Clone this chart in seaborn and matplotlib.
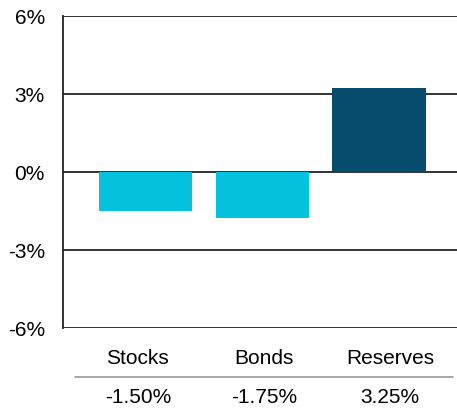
import pandas as pd
import seaborn as sns
import matplotlib.pyplot as plt
from matplotlib.lines import Line2D
from matplotlib.ticker import FuncFormatter

# Data
categories = ["Stocks", "Bonds", "Reserves"]
values = [-1.50, -1.75, 3.25]
value_labels = ["-1.50%", "-1.75%", "3.25%"]
bar_colors = ["#05C3DF", "#05C3DF", "#074B6D"]
yticks = [-6, -3, 0, 3, 6]

sns.set_theme(style="white")
plt.rcParams["font.family"] = ["Liberation Sans", "DejaVu Sans"]

df = pd.DataFrame({"category": categories, "value": values})

fig = plt.figure(figsize=(4.57, 4.12), dpi=100)
ax = fig.add_axes([63 / 457, 84 / 412, 394 / 457, 312 / 412])

sns.barplot(data=df, x="category", y="value", hue="category",
            palette=bar_colors, width=0.8, saturation=1, legend=False,
            linewidth=0, edgecolor="none", ax=ax, zorder=3)

# gridlines
for t in yticks:
    ax.axhline(t, color="#222222", lw=1.3, zorder=2)

ax.set_ylim(-6, 6)
ax.set_xlim(-0.71, 2.67)
ax.set_yticks(yticks)
ax.yaxis.set_major_formatter(FuncFormatter(lambda v, _: f"{v:.0f}%"))
ax.tick_params(axis="y", length=0, pad=13, labelsize=15, colors="black")
ax.set_xticks([])
ax.set_xlabel("")
ax.set_ylabel("")

for side in ["top", "right", "bottom"]:
    ax.spines[side].set_visible(False)
ax.spines["left"].set_color("#222222")
ax.spines["left"].set_linewidth(1.3)

# little table under the axis: equal columns across the grey rule
tbl_left, tbl_right = 0.030, 0.990
col_w = (tbl_right - tbl_left) / len(categories)
for i, (cat, lab) in enumerate(zip(categories, value_labels)):
    cx = tbl_left + col_w * (i + 0.5)
    ax.text(cx, -0.099, cat, transform=ax.transAxes, ha="center", va="center",
            fontsize=15, color="black")
    ax.text(cx, -0.224, lab, transform=ax.transAxes, ha="center", va="center",
            fontsize=15, color="black")

ax.add_line(Line2D([tbl_left, tbl_right], [-0.157, -0.157], transform=ax.transAxes,
                   color="#999999", lw=1.2, clip_on=False))

fig.savefig("out.png", dpi=100)
